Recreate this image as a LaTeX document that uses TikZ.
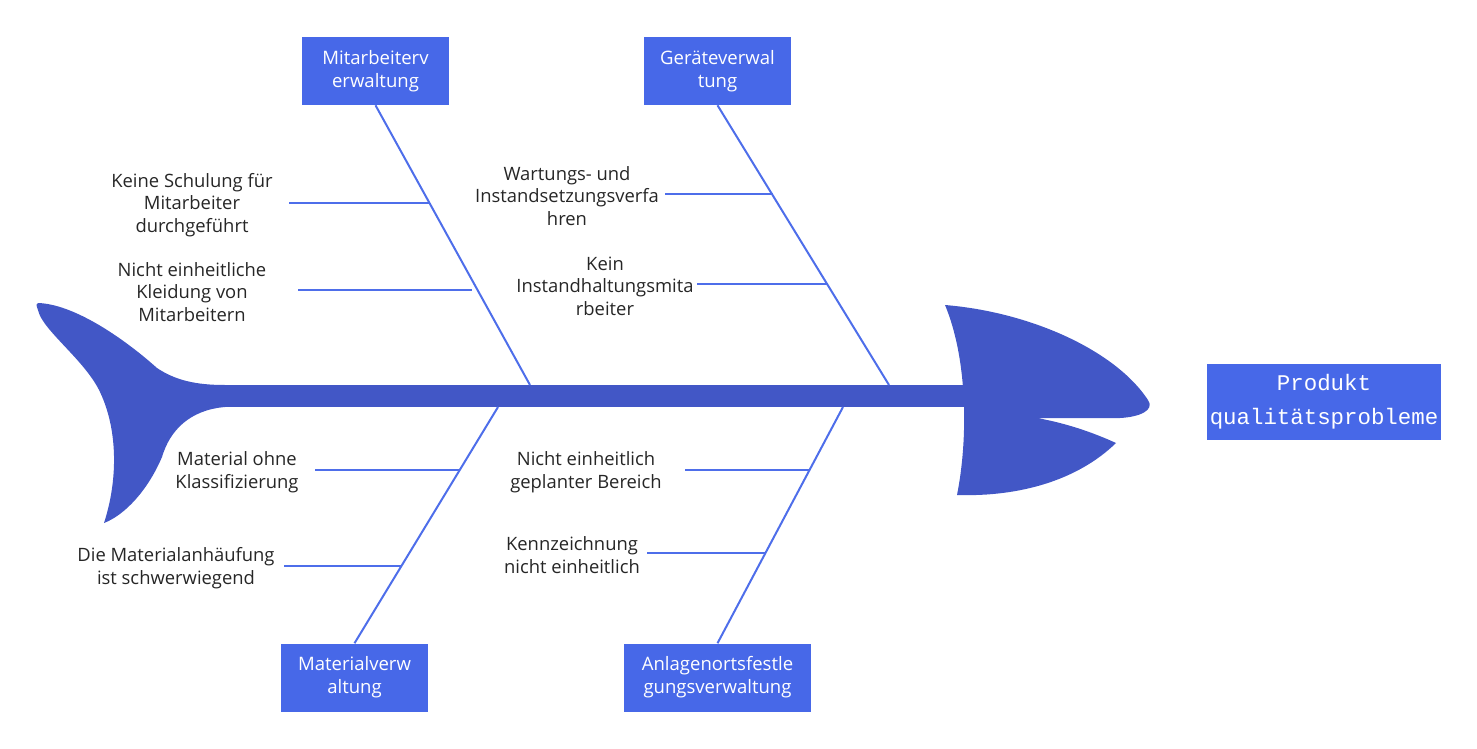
\documentclass[tikz,border=0pt]{standalone}
\usepackage{fontspec}
\setmainfont{Open Sans}
\newfontfamily\effectfont{Liberation Mono}

\definecolor{fishbody}{RGB}{66,87,198}
\definecolor{boxblue}{RGB}{71,104,232}
\definecolor{bonecol}{RGB}{78,110,234}
\definecolor{textgray}{RGB}{38,38,38}

\tikzset{
    category/.style={fill=boxblue, text=white, align=center, inner sep=0pt,
        minimum width=110.25pt, minimum height=51pt,
        font=\fontsize{13.9}{17.25}\selectfont},
    effect/.style={fill=boxblue, text=white, align=center, inner sep=0pt,
        minimum width=175.5pt, minimum height=57pt,
        font=\effectfont\fontsize{16.8}{25.5}\selectfont},
    cause/.style={text=textgray, align=center, inner sep=0pt,
        font=\fontsize{13.8}{16.9}\selectfont},
    bone/.style={draw=bonecol, line width=1.5pt},
    twig/.style={draw=bonecol, line width=1.5pt},
}

\begin{document}
\begin{tikzpicture}[x=0.75pt, y=-0.75pt]
    \useasboundingbox (0,0) rectangle (1477,749);

    % fish: spine, tail and head
    \fill[fishbody] (215,385) rectangle (970,407);
    \fill[fishbody] (38,303) .. controls (72,304) and (120,335) .. (157,368)
        .. controls (175,380) and (195,385) .. (225,385) -- (225,407)
        .. controls (190,410) and (170,430) .. (162,457)
        .. controls (148,490) and (125,515) .. (104,523)
        .. controls (118,480) and (118,430) .. (100,392)
        .. controls (85,360) and (42,330) .. (38,310)
        .. controls (36,305) and (36,303) .. (38,303) -- cycle;
    \fill[fishbody] (945,305) .. controls (1030,312) and (1115,350) .. (1148,400)
        .. controls (1155,410) and (1140,417) .. (1120,418) -- (1037,418)
        .. controls (1065,423) and (1092,432) .. (1116,443)
        .. controls (1078,480) and (1020,497) .. (957,495)
        .. controls (968,440) and (968,360) .. (945,305) -- cycle;

    % effect at the head
    \node[effect] (effect) at (1324,402) {Produkt\\qualitätsprobleme};

    % categories
    \node[category] (mitarbeiter) at (375.5,71) {Mitarbeiterv\\erwaltung};
    \node[category] (geraete) at (717.5,71) {Geräteverwal\\tung};
    \node[category] (material) at (354.5,677.5) {Materialverw\\altung};
    \node[category, minimum width=140.25pt] (anlagen) at (717.5,677.5) {Anlagenortsfestle\\gungsverwaltung};

    % bones into the spine
    \coordinate (mitarbeiter end) at (530,385);
    \coordinate (geraete end) at (889,385);
    \coordinate (material end) at (498,407);
    \coordinate (anlagen end) at (843,407);
    \draw[bone] (mitarbeiter.south) -- (mitarbeiter end);
    \draw[bone] (geraete.south) -- (geraete end);
    \draw[bone] (material.north) -- (material end);
    \draw[bone] (anlagen.north) -- (anlagen end);

    % causes of Mitarbeiterverwaltung
    \node[cause] (schulung) at (192,205) {Keine Schulung für\\Mitarbeiter\\durchgeführt};
    \node[cause] (kleidung) at (192,292) {Nicht einheitliche\\Kleidung von\\Mitarbeitern};
    \coordinate (schulung start) at (289,203);
    \coordinate (schulung end) at (430,203);
    \coordinate (kleidung start) at (298,290);
    \coordinate (kleidung end) at (472,290);
    \draw[twig] (schulung start) -- (schulung end);
    \draw[twig] (kleidung start) -- (kleidung end);

    % causes of Geraeteverwaltung
    \node[cause] (wartung) at (567,196) {Wartungs- und\\Instandsetzungsverfa\\hren};
    \node[cause] (personal) at (605,286) {Kein\\Instandhaltungsmita\\rbeiter};
    \coordinate (wartung start) at (665,194);
    \coordinate (wartung end) at (773,194);
    \coordinate (personal start) at (697,284);
    \coordinate (personal end) at (828,284);
    \draw[twig] (wartung start) -- (wartung end);
    \draw[twig] (personal start) -- (personal end);

    % causes of Materialverwaltung
    \node[cause] (klassen) at (237,472) {Material ohne\\Klassifizierung};
    \node[cause] (haeufung) at (176,568) {Die Materialanhäufung\\ist schwerwiegend};
    \coordinate (klassen start) at (315,470);
    \coordinate (klassen end) at (459,470);
    \coordinate (haeufung start) at (284,566);
    \coordinate (haeufung end) at (402,566);
    \draw[twig] (klassen start) -- (klassen end);
    \draw[twig] (haeufung start) -- (haeufung end);

    % causes of Anlagenortsfestlegungsverwaltung
    \node[cause] (bereich) at (586,472) {Nicht einheitlich\\geplanter Bereich};
    \node[cause] (kennung) at (572,555) {Kennzeichnung\\nicht einheitlich};
    \coordinate (bereich start) at (685,470);
    \coordinate (bereich end) at (809,470);
    \coordinate (kennung start) at (647,553);
    \coordinate (kennung end) at (766,553);
    \draw[twig] (bereich start) -- (bereich end);
    \draw[twig] (kennung start) -- (kennung end);

\end{tikzpicture}
\end{document}
